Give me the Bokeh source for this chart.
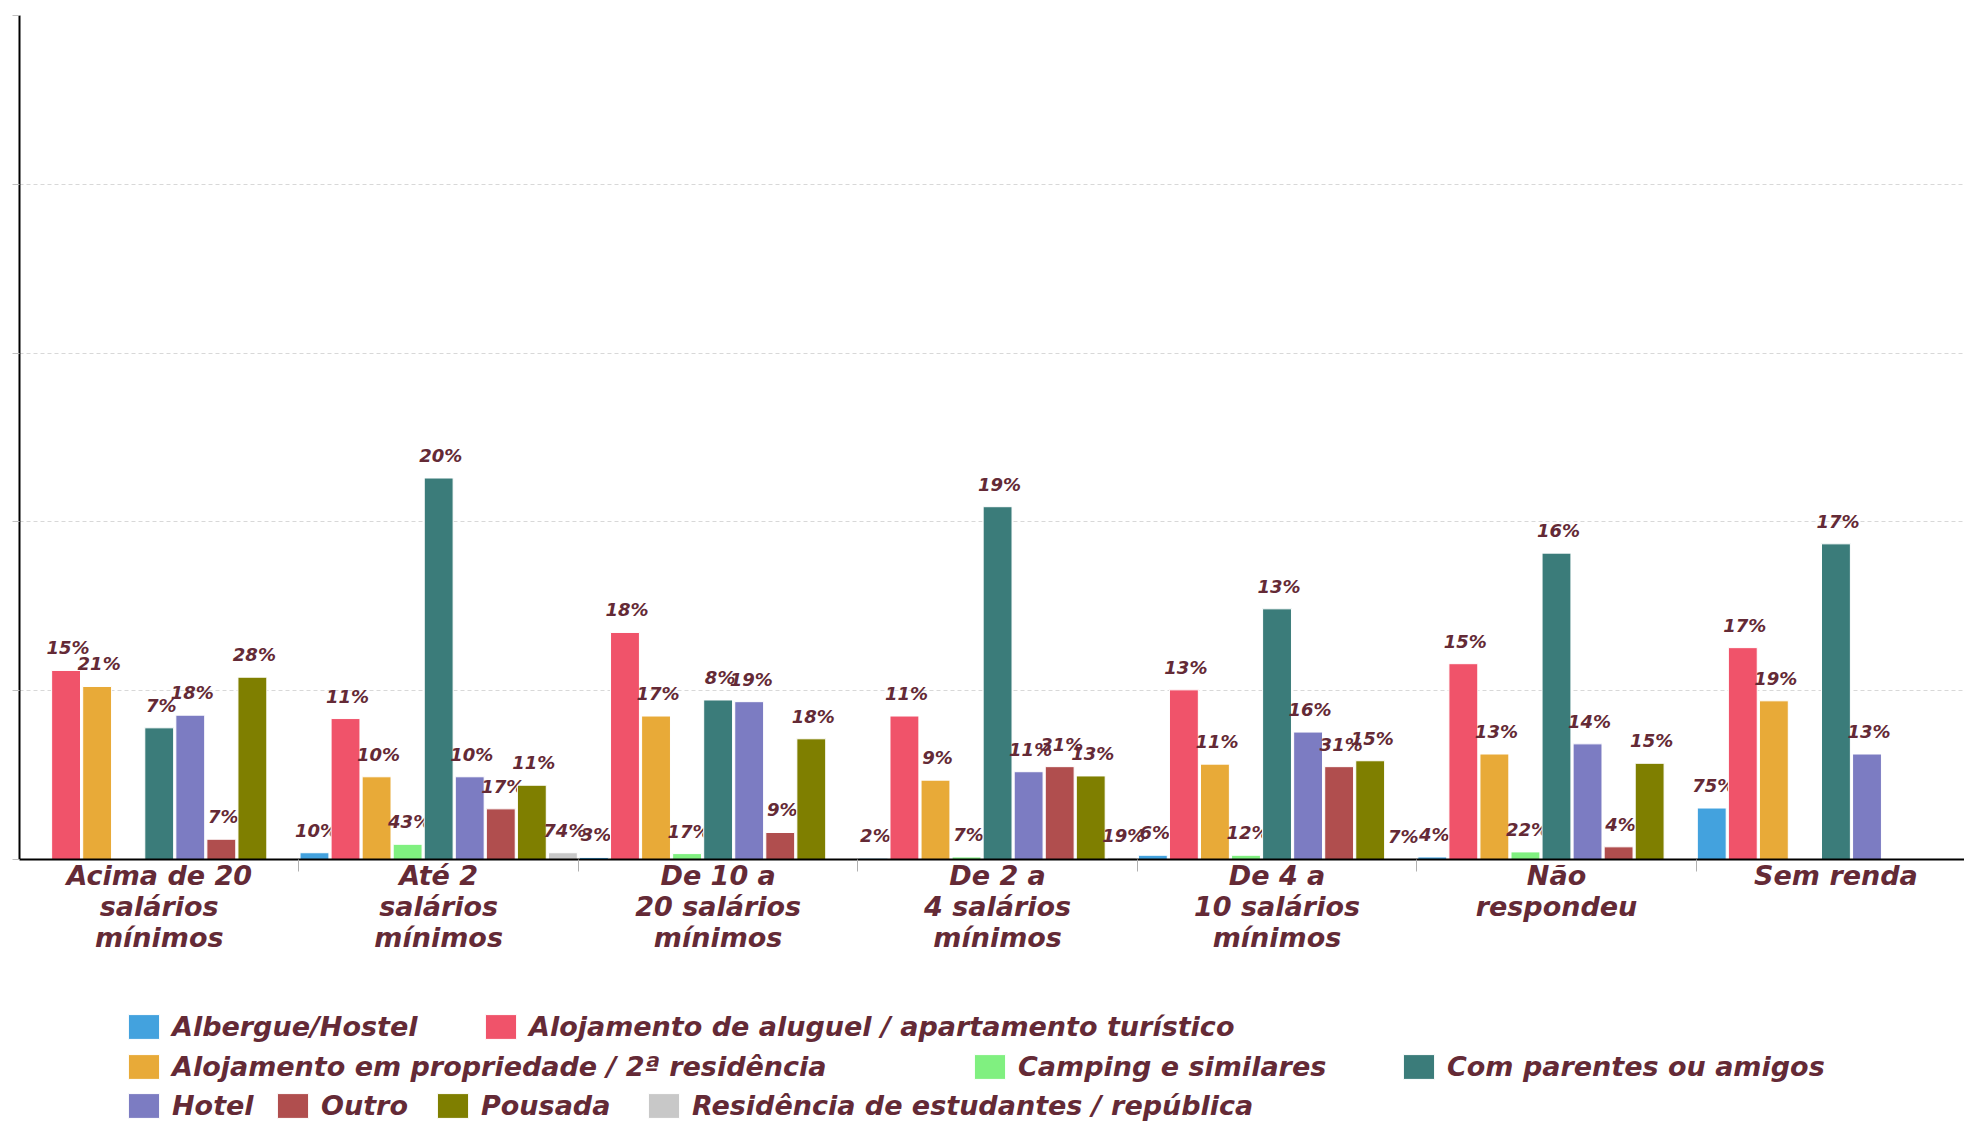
from bokeh.plotting import figure
from bokeh.layouts import column
from bokeh.models import Range1d, FixedTicker, Legend, LegendItem, ColumnDataSource
from bokeh.transform import dodge
from bokeh.core.properties import value
from bokeh.embed import file_html
from bokeh.resources import INLINE

# ---------------- data ----------------
categories = [
    "Acima de 20\nsalários\nmínimos",
    "Até 2\nsalários\nmínimos",
    "De 10 a\n20 salários\nmínimos",
    "De 2 a\n4 salários\nmínimos",
    "De 4 a\n10 salários\nmínimos",
    "Não\nrespondeu",
    "Sem renda",
]

series_names = [
    "Albergue/Hostel",
    "Alojamento de aluguel / apartamento turístico",
    "Alojamento em propriedade / 2ª residência",
    "Camping e similares",
    "Com parentes ou amigos",
    "Hotel",
    "Outro",
    "Pousada",
    "Residência de estudantes / república",
]

albergue = [None, 8, 2.5, 1.6, 5, 3, 61]
aluguel = [224, 167, 269, 170, 201, 232, 251]
propriedade = [205, 98, 170, 94, 113, 125, 188]
camping = [None, 18, 7, 3, 5, 9, None]
parentes = [156, 452, 189, 418, 297, 363, 374]
hotel = [171, 98, 187, 104, 151, 137, 125]
outro = [24, 60, 32, 110, 110, 15, None]
pousada = [216, 88, 143, 99, 117, 114, None]
residencia = [None, 8, None, 2, 0.8, None, None]

albergue_lbl = ["", "10%", "3%", "2%", "6%", "4%", "75%"]
aluguel_lbl = ["15%", "11%", "18%", "11%", "13%", "15%", "17%"]
propriedade_lbl = ["21%", "10%", "17%", "9%", "11%", "13%", "19%"]
camping_lbl = ["", "43%", "17%", "7%", "12%", "22%", ""]
parentes_lbl = ["7%", "20%", "8%", "19%", "13%", "16%", "17%"]
hotel_lbl = ["18%", "10%", "19%", "11%", "16%", "14%", "13%"]
outro_lbl = ["7%", "17%", "9%", "31%", "31%", "4%", ""]
pousada_lbl = ["28%", "11%", "18%", "13%", "15%", "15%", ""]
residencia_lbl = ["", "74%", "", "19%", "7%", "", ""]

grid_ticks = [0, 200, 400, 600, 800, 1000]

series_values = [albergue, aluguel, propriedade, camping, parentes, hotel, outro, pousada, residencia]
series_labels = [albergue_lbl, aluguel_lbl, propriedade_lbl, camping_lbl, parentes_lbl,
                 hotel_lbl, outro_lbl, pousada_lbl, residencia_lbl]

colors = ["#43a2de", "#f0536a", "#e8aa38", "#80f080", "#3b7c7a",
          "#7c7cc2", "#b04e4e", "#7f7f00", "#c8c8c8"]

TEXT_COLOR = "#642a36"
FONT = "DejaVu Sans"

# ---------------- main chart ----------------
W = 1964
H1 = 965
p = figure(width=W, height=H1, output_backend="svg", toolbar_location=None,
           x_range=Range1d(-0.5, 6.46), y_range=Range1d(0, 1000),
           min_border_left=19, min_border_right=0, min_border_top=15,
           min_border_bottom=106, tools="")
p.outline_line_color = None
p.background_fill_color = "white"
p.xgrid.grid_line_color = None

p.ygrid.ticker = FixedTicker(ticks=grid_ticks)
p.ygrid.grid_line_color = "#d8d8d8"
p.ygrid.grid_line_dash = "4 3"
p.ygrid.grid_line_width = 1

# y axis: line with short outer ticks at the grid values, labels outside the picture
p.yaxis.ticker = FixedTicker(ticks=[], minor_ticks=grid_ticks)
p.yaxis.axis_line_color = "black"
p.yaxis.axis_line_width = 2
p.yaxis.minor_tick_out = 7
p.yaxis.minor_tick_in = 0
p.yaxis.minor_tick_line_color = "#c0c0c0"
p.yaxis.major_tick_line_color = None

# x axis: labels at category centres, ticks at category boundaries
n = len(categories)
p.xaxis.ticker = FixedTicker(ticks=list(range(n)),
                             minor_ticks=[i + 0.5 for i in range(n - 1)])
p.xaxis.major_label_overrides = {i: c for i, c in enumerate(categories)}
p.xaxis.axis_line_color = "black"
p.xaxis.axis_line_width = 2
p.xaxis.major_tick_line_color = None
p.xaxis.major_tick_out = 0
p.xaxis.major_tick_in = 0
p.xaxis.minor_tick_line_color = "#b0b0b0"
p.xaxis.minor_tick_out = 12
p.xaxis.minor_tick_in = 0
p.xaxis.major_label_standoff = -12
p.xaxis.major_label_text_font = FONT
p.xaxis.major_label_text_font_style = "bold italic"
p.xaxis.major_label_text_font_size = "27px"
p.xaxis.major_label_text_line_height = 1.0
p.xaxis.major_label_text_color = TEXT_COLOR

k = len(series_names)
slot = 1.0 / k
for j, (name, vals, lbls, col) in enumerate(zip(series_names, series_values, series_labels, colors)):
    idx = [i for i, v in enumerate(vals) if v is not None]
    src = ColumnDataSource(dict(
        x=idx,
        top=[vals[i] for i in idx],
        label=[lbls[i] for i in idx],
    ))
    off = (j - (k - 1) / 2) * slot
    p.vbar(x=dodge("x", off, range=p.x_range), top="top", bottom=0, width=slot * 0.93,
           source=src, fill_color=col, line_color="white", line_width=1)
    p.text(x=dodge("x", off, range=p.x_range), y="top", text="label", source=src,
           text_align="center", text_baseline="bottom", x_offset=2, y_offset=-12,
           text_font=value(FONT), text_font_style="bold italic",
           text_font_size="18px", text_color=TEXT_COLOR)

# ---------------- legend strip ----------------
H2 = 1121 - H1
lp = figure(width=W, height=H2, output_backend="svg", toolbar_location=None,
            x_axis_type=None, y_axis_type=None, x_range=Range1d(0, 1), y_range=Range1d(0, 1),
            min_border=0, tools="")
lp.outline_line_color = None
lp.grid.visible = False

# zero-size swatch renderers, used only to give the legend entries their colours
swatches = []
for name, col in zip(series_names, colors):
    swatches.append(lp.vbar(x=[0], top=[0], bottom=[0], width=0, fill_color=col,
                            line_color="white", line_width=1))

legend_rows = [[0, 1], [2, 3, 4], [5, 6, 7, 8]]
legend_x = [[105, 462], [105, 951, 1380], [105, 254, 414, 625]]
legend_y = [79, 39, 0]
for row, xs, y in zip(legend_rows, legend_x, legend_y):
    for j, x in zip(row, xs):
        lg = Legend(items=[LegendItem(label=series_names[j], renderers=[swatches[j]])],
                    location=(x, y), orientation="horizontal",
                    padding=0, margin=0, border_line_color=None,
                    background_fill_alpha=0,
                    glyph_width=39, glyph_height=31, label_standoff=9,
                    label_text_font=FONT, label_text_font_style="bold italic",
                    label_text_font_size="27px", label_text_color=TEXT_COLOR)
        lp.add_layout(lg, "center")

layout = column(p, lp, spacing=0)
open("out.html", "w").write(file_html(layout, INLINE))
